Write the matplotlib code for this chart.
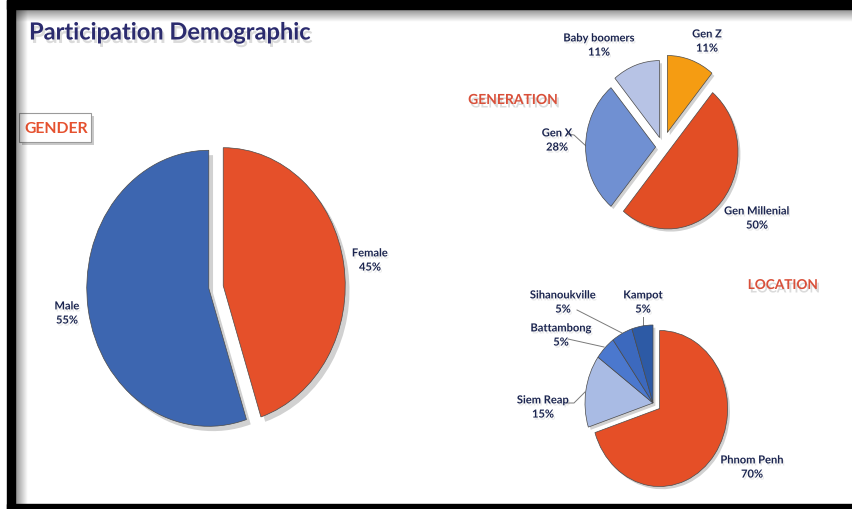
import numpy as np
import matplotlib
matplotlib.use("Agg")
import matplotlib.pyplot as plt
import matplotlib.patheffects as pe
from matplotlib.patches import Rectangle

plt.rcParams['font.family'] = ['Lato', 'DejaVu Sans']

W, H = 852, 510

# survey breakdowns
gender_labels = ['Female', 'Male']
gender_values = [45, 55]

gen_labels = ['Gen Z', 'Gen Millenial', 'Gen X', 'Baby boomers']
gen_values = [11, 50, 28, 11]

loc_labels = ['Phnom Penh', 'Siem Reap', 'Battambong', 'Sihanoukville', 'Kampot']
loc_values = [70, 15, 5, 5, 5]

# styling
gender_colors = ['#E5502A', '#3D66B0']
gender_explode = [0.06, 0.06]
gen_colors = ['#F59C12', '#E24E25', '#7090D2', '#B7C3E5']
gen_explode = [0.2, 0.1, 0.1, 0.13]
loc_colors = ['#E54F27', '#A9BBE4', '#4B78CE', '#3C69BE', '#2D5AA5']
loc_explode = [0.12, 0, 0, 0, 0]

NAVY = '#1B2550'
ACCENT = '#E5512F'

# label anchors in pixel space
gender_text = [(370, 261), (67, 314)]
gen_text = [(707, 42), (757, 219), (557, 141), (599, 46)]
loc_text = [(752, 468), (543, 408), (561, 336), (563, 303), (643, 303)]
leaders = [
    [(567, 135), (574, 136), (586, 147)],
    [(577, 311), (622, 334)],
    [(568, 340), (604, 348)],
    [(567, 404), (574, 404), (585, 393)],
    [(643, 318), (643, 328)],
]

fig = plt.figure(figsize=(W / 100, H / 100), dpi=100)
canvas = fig.add_axes([0, 0, 1, 1])
canvas.set_xlim(0, W)
canvas.set_ylim(H, 0)
canvas.axis('off')

# slide frame: black border with a soft inner shadow
canvas.add_patch(Rectangle((7, 1), W - 7, 9, color='black', zorder=5))
canvas.add_patch(Rectangle((7, 1), 8, H, color='black', zorder=5))
canvas.add_patch(Rectangle((7, 505), W - 7, 6, color='black', zorder=5))
ramp = np.zeros((1, 40, 4))
ramp[..., 3] = np.linspace(0.45, 0, 40)
canvas.imshow(ramp, extent=[15, 28, 505, 10], aspect='auto', zorder=4)
canvas.imshow(ramp.transpose(1, 0, 2), extent=[15, W, 23, 10], aspect='auto', zorder=4)

shadow = [pe.withSimplePatchShadow(offset=(1.5, -2.5), shadow_rgbFace='#888888', alpha=0.3)]
soft = [pe.withSimplePatchShadow(offset=(1, -1.5), shadow_rgbFace='#aaaaaa', alpha=0.25)]

canvas.text(29, 33, 'Participation Demographic', fontsize=17, fontweight='bold',
            color='#2B2B6E', va='center', ha='left', path_effects=shadow)

# section headings
canvas.add_patch(Rectangle((19, 114), 72, 29, facecolor='white', edgecolor='#9a9a9a',
                           linewidth=0.8, path_effects=[pe.SimplePatchShadow(offset=(2, -2), alpha=0.3), pe.Normal()]))
canvas.text(56, 129, 'GENDER', fontsize=11.3, fontweight='bold', color=ACCENT,
            ha='center', va='center')
canvas.text(513, 101, 'GENERATION', fontsize=10, fontweight='bold', color='#D9503A',
            ha='center', va='center', path_effects=shadow)
canvas.text(783, 286, 'LOCATION', fontsize=9.8, fontweight='bold', color='#D9503A',
            ha='center', va='center', path_effects=shadow)


def add_pie(cx, cy, rx, ry, values, colors, explode):
    ax = fig.add_axes([(cx - 1.5 * rx) / W, 1 - (cy + 1.5 * ry) / H, 3 * rx / W, 3 * ry / H])
    # drop shadow: same pie, shifted and greyed, drawn underneath
    ax.pie(values, colors=['#000000'] * len(values), explode=explode, startangle=90,
           counterclock=False, center=(0.035, -0.035),
           wedgeprops=dict(linewidth=0, alpha=0.18))
    ax.pie(values, colors=colors, explode=explode, startangle=90, counterclock=False,
           wedgeprops=dict(edgecolor='#4a4a4a', linewidth=0.5))
    ax.set_aspect('auto')
    ax.set_xlim(-1.5, 1.5)
    ax.set_ylim(-1.5, 1.5)
    ax.axis('off')
    return ax


add_pie(216, 288, 122, 138, gender_values, gender_colors, gender_explode)
add_pie(662.6, 148, 70, 77, gen_values, gen_colors, gen_explode)
add_pie(653, 404, 68, 78, loc_values, loc_colors, loc_explode)


def put_labels(labels, values, anchors):
    for lab, val, (x, y) in zip(labels, values, anchors):
        canvas.text(x, y, f'{lab}\n{val}%', fontsize=8, fontweight='bold', color=NAVY,
                    ha='center', va='center', linespacing=1.35, path_effects=soft)


put_labels(gender_labels, gender_values, gender_text)
put_labels(gen_labels, gen_values, gen_text)
put_labels(loc_labels, loc_values, loc_text)

for pts in leaders:
    xs, ys = zip(*pts)
    canvas.plot(xs, ys, color='#7a7a7a', linewidth=0.7)

fig.savefig('out.png', dpi=100)
